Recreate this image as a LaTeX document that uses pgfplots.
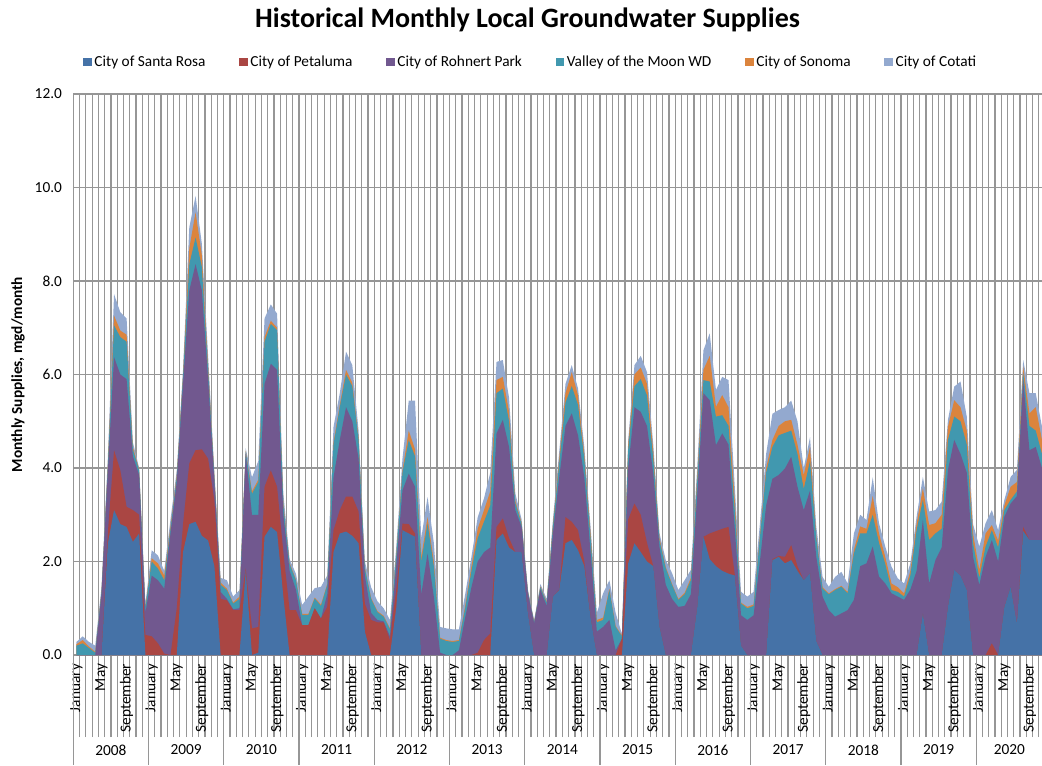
\documentclass[border=0pt]{standalone}
\usepackage{fontspec}
\setmainfont{Carlito}
\usepackage{pgfplots}
\usepackage{pgfplotstable}
\pgfplotsset{compat=1.18}
\definecolor{csr}{HTML}{4572A7}
\definecolor{cpe}{HTML}{AA4643}
\definecolor{crp}{HTML}{71588F}
\definecolor{cvm}{HTML}{4198AF}
\definecolor{cso}{HTML}{DB843D}
\definecolor{cco}{HTML}{93A9CF}
\definecolor{gridc}{RGB}{150,150,150}
\newcommand{\fs}{\fontsize{11.5}{13}\selectfont}
\newcommand{\mJan}{{\fs January}}
\newcommand{\mMay}{{\fs May}}
\newcommand{\mSep}{{\fs September}}
% cumulative (stacked) tops of each band, month index 0 = January 2008
\pgfplotstableread{
i sr pet rp vom son cot
0 0 0 0 0.2 0.23 0.28
1 0 0 0 0.25 0.32 0.4
2 0 0 0 0.15 0.18 0.28
3 0 0 0 0.05 0.07 0.2
4 0 0 1.3 1.35 1.37 1.45
5 2.38 2.6 3.9 4.0 4.05 4.2
6 3.1 4.38 6.37 7.05 7.26 7.72
7 2.8 3.95 6.0 6.8 6.94 7.33
8 2.74 3.17 5.9 6.7 6.85 7.2
9 2.42 3.1 4.25 4.4 4.45 4.55
10 2.6 3.0 3.85 3.95 3.97 4.0
11 0 0.43 0.9 1.0 1.02 1.1
12 0 0.4 1.7 2.0 2.07 2.24
13 0 0.25 1.6 1.85 1.96 2.13
14 0 0.03 1.42 1.6 1.7 1.8
15 0 0 2.6 2.7 2.75 2.9
16 0 1.0 3.7 3.8 3.85 3.95
17 2.2 2.8 5.8 5.95 6.0 6.1
18 2.8 4.1 7.8 8.36 8.7 9.15
19 2.85 4.38 8.36 8.93 9.47 9.82
20 2.55 4.4 7.8 8.3 8.55 8.8
21 2.45 4.2 5.9 6.1 6.2 6.4
22 1.9 3.3 3.7 3.8 3.83 3.9
23 0 1.2 1.35 1.5 1.55 1.65
24 0 1.17 1.2 1.39 1.42 1.6
25 0 0.96 0.98 1.1 1.12 1.25
26 0 0.96 1.0 1.2 1.25 1.39
27 1.8 1.85 4.3 4.35 4.37 4.42
28 0 0.57 3.0 3.45 3.5 3.8
29 0.05 0.6 3.0 3.7 3.75 4.15
30 2.53 3.6 5.8 6.7 6.8 7.2
31 2.74 3.95 6.23 7.08 7.15 7.5
32 2.63 3.6 6.1 6.95 7.0 7.3
33 1.25 2.2 3.0 3.2 3.25 3.45
34 0 0.96 1.8 1.95 1.97 2.05
35 0 0.96 1.4 1.6 1.62 1.74
36 0 0.64 0.64 0.86 0.88 1.07
37 0 0.64 0.64 0.86 0.88 1.25
38 0 1.0 1.0 1.21 1.23 1.43
39 0 0.78 0.78 1.05 1.08 1.46
40 0 1.03 1.3 1.5 1.52 1.7
41 2.2 2.67 3.8 4.5 4.55 4.88
42 2.6 3.1 4.6 5.3 5.35 5.6
43 2.64 3.39 5.3 6.0 6.1 6.49
44 2.55 3.39 5.0 5.75 5.82 6.2
45 2.39 3.07 4.2 4.6 4.65 4.8
46 0.5 1.1 1.7 1.85 1.87 2.0
47 0 0.75 0.9 1.2 1.22 1.45
48 0 0.7 0.75 0.92 0.94 1.15
49 0 0.7 0.72 0.82 0.84 1.0
50 0 0.32 0.4 0.55 0.57 0.75
51 1.0 1.4 1.9 2.1 2.13 2.3
52 2.67 2.81 3.52 3.9 3.95 4.2
53 2.6 2.8 3.88 4.6 4.8 5.44
54 2.53 2.6 3.6 4.25 4.4 5.44
55 0 0 1.3 2.0 2.1 2.5
56 0 0 2.17 2.81 2.95 3.38
57 0 0 1.25 1.9 2.0 2.4
58 0 0 0.05 0.35 0.37 0.6
59 0 0 0 0.3 0.32 0.57
60 0 0 0 0.28 0.3 0.55
61 0 0 0.1 0.3 0.32 0.55
62 0 0 0.8 1.0 1.05 1.3
63 0 0 1.45 1.8 1.9 2.1
64 0 0.05 2.0 2.5 2.7 2.95
65 0 0.32 2.2 2.85 3.1 3.35
66 0 0.46 2.3 3.2 3.5 3.9
67 2.46 2.74 4.74 5.6 5.88 6.27
68 2.6 2.92 5.03 5.7 5.95 6.31
69 2.3 2.5 4.45 5.0 5.2 5.5
70 2.2 2.2 3.1 3.25 3.3 3.46
71 2.2 2.2 2.74 2.8 2.83 2.9
72 0.9 0.9 1.32 1.36 1.37 1.4
73 0 0 0.68 0.7 0.71 0.75
74 0 0 1.4 1.45 1.47 1.52
75 0 0 1.05 1.12 1.14 1.2
76 1.25 1.25 2.6 2.75 2.8 2.9
77 1.39 1.4 3.8 4.1 4.2 4.35
78 2.39 2.95 4.9 5.4 5.6 5.8
79 2.46 2.85 5.17 5.75 6.05 6.2
80 2.24 2.67 4.7 5.35 5.55 5.7
81 1.9 2.0 3.8 4.2 4.3 4.45
82 0.8 0.8 2.2 2.5 2.6 2.74
83 0 0 0.5 0.7 0.75 0.9
84 0 0 0.6 0.75 0.8 1.32
85 0 0 0.75 1.39 1.42 1.6
86 0 0 0.1 0.6 0.62 0.9
87 0 0.35 0.35 0.4 0.42 0.45
88 1.96 2.9 4.0 4.4 4.5 4.6
89 2.39 3.24 5.3 5.75 6.0 6.2
90 2.2 3.0 5.2 5.9 6.15 6.4
91 2.0 2.4 4.9 5.55 5.8 6.05
92 1.9 1.9 3.88 4.2 4.35 4.5
93 0.6 0.6 2.3 2.45 2.5 2.6
94 0 0 1.5 1.85 1.88 2.03
95 0 0 1.2 1.5 1.52 1.75
96 0 0 1.03 1.18 1.2 1.39
97 0 0 1.05 1.3 1.33 1.6
98 0 0 1.3 1.6 1.65 1.82
99 1.0 1.0 3.4 3.7 3.8 4.0
100 2.53 2.53 5.6 5.88 6.1 6.52
101 2.05 2.6 5.45 5.85 6.4 6.88
102 1.9 2.65 4.49 5.1 5.31 5.67
103 1.8 2.7 4.74 5.13 5.56 5.95
104 1.74 2.74 4.5 4.9 5.3 5.88
105 1.7 1.72 2.7 3.1 3.3 3.6
106 0.2 0.2 0.85 1.1 1.12 1.35
107 0 0 0.75 1.0 1.03 1.25
108 0 0 0.85 1.05 1.08 1.35
109 0 0 2.0 2.5 2.55 2.8
110 0 0 3.2 3.9 4.0 4.3
111 2.03 2.05 3.77 4.45 4.6 5.16
112 2.1 2.12 3.85 4.7 4.9 5.24
113 1.96 2.1 3.99 4.75 5.0 5.3
114 2.03 2.35 4.24 4.8 5.03 5.44
115 1.8 1.9 3.6 4.3 4.5 5.0
116 1.6 1.6 3.1 3.55 3.85 4.0
117 1.75 1.75 3.52 4.16 4.45 4.66
118 0.3 0.3 2.1 2.5 2.55 2.75
119 0 0 1.25 1.42 1.45 1.67
120 0 0 0.96 1.3 1.32 1.46
121 0 0 0.82 1.39 1.41 1.67
122 0 0 0.89 1.46 1.48 1.78
123 0 0 0.96 1.32 1.35 1.53
124 0 0 1.18 2.17 2.25 2.6
125 0 0 1.9 2.6 2.75 3.0
126 0 0 1.96 2.6 2.7 2.89
127 0 0 2.32 3.0 3.4 3.8
128 0 0 1.68 2.4 2.6 2.82
129 0 0 1.53 1.95 2.1 2.32
130 0 0 1.32 1.39 1.53 1.89
131 0 0 1.25 1.35 1.45 1.64
132 0 0 1.18 1.25 1.32 1.53
133 0 0 1.4 1.7 1.8 1.96
134 0 0 1.8 2.67 2.8 2.96
135 0.89 0.89 2.89 3.32 3.57 3.81
136 0 0 1.53 2.46 2.78 3.07
137 0 0 2.03 2.6 2.82 3.1
138 0 0 2.3 2.7 3.0 3.28
139 1.03 1.03 3.96 4.6 4.88 5.03
140 1.82 1.82 4.6 5.1 5.45 5.74
141 1.7 1.7 4.3 5.0 5.3 5.85
142 1.39 1.39 3.9 4.5 4.8 5.1
143 0 0 2.1 2.4 2.6 2.8
144 0 0 1.5 1.65 1.82 2.32
145 0 0 2.1 2.32 2.6 2.82
146 0 0.25 2.46 2.67 2.78 3.1
147 0 0 2.0 2.3 2.45 2.67
148 1.03 1.03 2.96 3.1 3.2 3.32
149 1.46 1.46 3.24 3.32 3.6 3.81
150 0.68 0.68 3.4 3.5 3.7 3.96
151 2.65 2.74 5.88 6.03 6.17 6.31
152 2.46 2.46 4.38 4.9 5.17 5.6
153 2.46 2.46 4.45 4.8 5.3 5.6
154 2.46 2.46 4.0 4.3 4.6 4.88
155 2.4 2.4 3.8 4.1 4.3 4.5
}\data

\begin{document}
\begin{tikzpicture}
\useasboundingbox (-54.98pt,-82.5pt) rectangle (726.5pt,491.25pt);
\begin{axis}[
  scale only axis, width=726.5pt, height=420.75pt,
  xmin=-0.5, xmax=154, ymin=0, ymax=12,
  clip mode=individual,
  axis x line*=bottom, axis y line*=left,
  axis line style={-, draw=gridc, line width=0.9pt},
  xtick={-0.5,0.5,...,153.5}, xticklabels={},
  ytick={0,2,...,12},
  xmajorgrids, ymajorgrids,
  major grid style={draw=gridc, line width=0.9pt},
  xtick align=outside, ytick align=inside,
  major tick length=61.5pt,
  xtick style={draw=gridc, line width=0.9pt},
  ytick style={draw=none},
  x tick label style={rotate=90, anchor=east, inner sep=6.5pt},
  extra x ticks={0,4,8,12,16,20,24,28,32,36,40,44,48,52,56,60,64,68,72,76,80,84,88,92,96,100,104,108,112,116,120,124,128,132,136,140,144,148,152},
  extra x tick labels={\mJan,\mMay,\mSep,\mJan,\mMay,\mSep,\mJan,\mMay,\mSep,\mJan,\mMay,\mSep,\mJan,\mMay,\mSep,\mJan,\mMay,\mSep,\mJan,\mMay,\mSep,\mJan,\mMay,\mSep,\mJan,\mMay,\mSep,\mJan,\mMay,\mSep,\mJan,\mMay,\mSep,\mJan,\mMay,\mSep,\mJan,\mMay,\mSep},
  extra x tick style={major tick length=0pt, tick style={draw=none}, grid=none},
  /pgf/number format/assume math mode=true,
  yticklabel style={font=\fs, xshift=-5pt, /pgf/number format/.cd, fixed, fixed zerofill, precision=1},
  ylabel={Monthly Supplies, mgd/month},
  ylabel style={at={(axis description cs:-0.0571,0.5)}, anchor=center, font=\fs\bfseries},
  title={Historical Monthly Local Groundwater Supplies},
  title style={at={(axis description cs:0.4689,1.1176)}, anchor=center, font=\fontsize{21}{24}\selectfont\bfseries},
  legend columns=6,
  legend style={at={(axis description cs:0.4725,1.057)}, anchor=center, draw=none, fill=none, font=\fs,
    /tikz/every even column/.append style={column sep=23.3pt}},
  legend image code/.code={\draw[#1,draw=none] (0pt,-3.2pt) rectangle (6.4pt,3.2pt);},
]
\addplot[fill=cco, draw=none, forget plot] table[x=i, y=cot]{\data} \closedcycle;
\addplot[fill=cso, draw=none, forget plot] table[x=i, y=son]{\data} \closedcycle;
\addplot[fill=cvm, draw=none, forget plot] table[x=i, y=vom]{\data} \closedcycle;
\addplot[fill=crp, draw=none, forget plot] table[x=i, y=rp]{\data} \closedcycle;
\addplot[fill=cpe, draw=none, forget plot] table[x=i, y=pet]{\data} \closedcycle;
\addplot[fill=csr, draw=none, forget plot] table[x=i, y=sr]{\data} \closedcycle;
\addlegendimage{fill=csr}\addlegendentry{City of Santa Rosa}
\addlegendimage{fill=cpe}\addlegendentry{City of Petaluma}
\addlegendimage{fill=crp}\addlegendentry{City of Rohnert Park}
\addlegendimage{fill=cvm}\addlegendentry{Valley of the Moon WD}
\addlegendimage{fill=cso}\addlegendentry{City of Sonoma}
\addlegendimage{fill=cco}\addlegendentry{City of Cotati}
\foreach \b in {-0.5,11.5,23.5,35.5,47.5,59.5,71.5,83.5,95.5,107.5,119.5,131.5,143.5}{
  \edef\tmp{\noexpand\draw[gridc, line width=0.9pt] (axis cs:\b,0) -- ++(0pt,-82.5pt);}\tmp
}
\node[font=\fs] at ([yshift=-71.25pt]axis cs:5.5,0) {2008};
\node[font=\fs] at ([yshift=-71.25pt]axis cs:17.5,0) {2009};
\node[font=\fs] at ([yshift=-71.25pt]axis cs:29.5,0) {2010};
\node[font=\fs] at ([yshift=-71.25pt]axis cs:41.5,0) {2011};
\node[font=\fs] at ([yshift=-71.25pt]axis cs:53.5,0) {2012};
\node[font=\fs] at ([yshift=-71.25pt]axis cs:65.5,0) {2013};
\node[font=\fs] at ([yshift=-71.25pt]axis cs:77.5,0) {2014};
\node[font=\fs] at ([yshift=-71.25pt]axis cs:89.5,0) {2015};
\node[font=\fs] at ([yshift=-71.25pt]axis cs:101.5,0) {2016};
\node[font=\fs] at ([yshift=-71.25pt]axis cs:113.5,0) {2017};
\node[font=\fs] at ([yshift=-71.25pt]axis cs:125.5,0) {2018};
\node[font=\fs] at ([yshift=-71.25pt]axis cs:137.5,0) {2019};
\node[font=\fs] at ([yshift=-71.25pt]axis cs:148.8,0) {2020};
\end{axis}
\end{tikzpicture}
\end{document}
